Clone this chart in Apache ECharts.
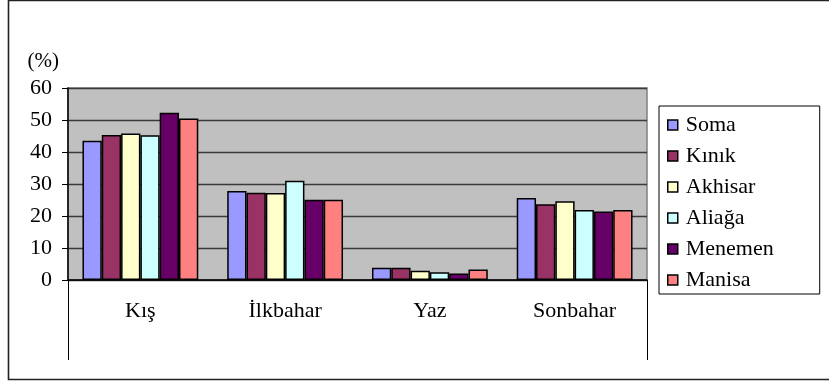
<!DOCTYPE html>
<html lang="tr">
<head>
<meta charset="UTF-8">
<title>Mevsimler</title>
<script src="https://cdn.jsdelivr.net/npm/echarts@6.0.0/dist/echarts.min.js"></script>
</head>
<body style="margin:0;background:#fff;">
<div id="chart" style="width:829px;height:383px;"></div>
<script>
// mevsimler ve istasyonlar
const seasons = ['Kış', 'İlkbahar', 'Yaz', 'Sonbahar'];
const stations = ['Soma', 'Kınık', 'Akhisar', 'Aliağa', 'Menemen', 'Manisa'];
const colors = ['#9999ff', '#993366', '#ffffcc', '#ccffff', '#660066', '#ff8080'];

// her istasyon için mevsimlik yüzde (%)
const soma    = [43.5, 27.8, 3.8, 25.6];
const kinik   = [45.3, 27.3, 3.8, 23.7];
const akhisar = [45.8, 27.2, 2.9, 24.6];
const aliaga  = [45.2, 31.0, 2.4, 21.9];
const menemen = [52.3, 25.1, 2.0, 21.4];
const manisa  = [50.5, 25.1, 3.3, 21.9];
const values = [soma, kinik, akhisar, aliaga, menemen, manisa];

const yTicks = { min: 0, max: 60, interval: 10 };
const serif = '"Liberation Serif", "Times New Roman", serif';

let chart = echarts.init(document.getElementById('chart'));

let series = stations.map((name, i) => ({
    name: name,
    type: 'bar',
    xAxisIndex: 0,
    data: values[i],
    barGap: '0%',
    barCategoryGap: '20%',
    itemStyle: { color: colors[i], borderColor: '#000', borderWidth: 1.5 },
    emphasis: { disabled: true }
}));

let option = {
    animation: false,
    backgroundColor: '#fff',
    grid: {
        left: 68, top: 88, right: 182, bottom: 103,
        show: true,
        backgroundColor: '#c0c0c0',
        borderColor: '#808080',
        borderWidth: 1.5
    },
    legend: {
        orient: 'vertical',
        left: 659, top: 106,
        padding: [8, 46, 3, 8],
        itemWidth: 10, itemHeight: 10, itemGap: 9,
        icon: 'rect',
        borderColor: '#000', borderWidth: 1,
        itemStyle: { borderColor: '#000', borderWidth: 1.5 },
        textStyle: { fontFamily: serif, fontSize: 22, lineHeight: 21, color: '#000', padding: [0, 0, 0, 3] },
        data: stations
    },
    xAxis: [
        {
            type: 'category',
            data: seasons,
            axisLine: { lineStyle: { color: '#000', width: 1.5 } },
            axisTick: { length: 41, lineStyle: { color: '#333', width: 1 } },
            axisLabel: { fontFamily: serif, fontSize: 22, color: '#000', margin: 20 }
        },
        {
            // sol ve sağ kenardaki uzun çizgiler
            type: 'value',
            min: 0, max: 1, interval: 1,
            position: 'bottom',
            show: true,
            axisLine: { show: false },
            axisTick: { show: true, length: 80, lineStyle: { color: '#000', width: 1 } },
            axisLabel: { show: false },
            splitLine: { show: false }
        }
    ],
    yAxis: {
        type: 'value',
        min: yTicks.min, max: yTicks.max, interval: yTicks.interval,
        name: '(%)',
        nameLocation: 'end',
        nameGap: 16,
        nameTextStyle: { fontFamily: serif, fontSize: 21, color: '#000', align: 'right', padding: [0, 9, 0, 0] },
        axisLine: { show: true, lineStyle: { color: '#000', width: 1.5 } },
        axisTick: { show: true, length: 6, lineStyle: { color: '#000' } },
        axisLabel: { fontFamily: serif, fontSize: 22, color: '#000', margin: 16 },
        splitLine: { lineStyle: { color: '#3a3a3a', width: 1.3 } }
    },
    graphic: [{
        type: 'rect',
        shape: { x: 8.5, y: 0.5, width: 900, height: 379 },
        style: { fill: 'none', stroke: '#222', lineWidth: 1.6 },
        silent: true
    }],
    series: series
};

chart.setOption(option);
</script>
</body>
</html>
